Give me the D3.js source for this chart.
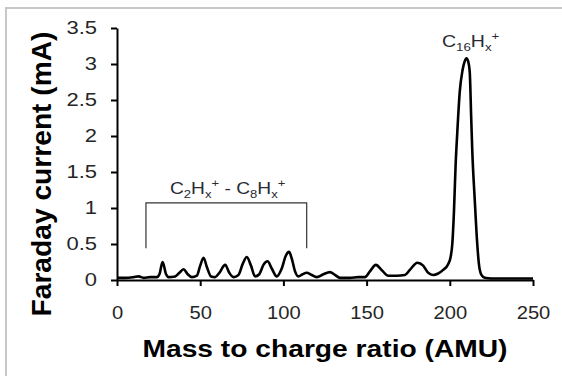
<!DOCTYPE html>
<html>
<head>
<meta charset="utf-8">
<script src="https://cdn.jsdelivr.net/npm/d3@7/dist/d3.min.js"></script>
<style>
body { margin: 0; background: #fff; }
svg { display: block; font-family: "Liberation Sans", Arial, sans-serif; }
</style>
</head>
<body>
<div id="chart"></div>
<script>
// spectrum: mass-to-charge (AMU) and Faraday current (mA)
var massCharge = [0, 5, 10, 13, 16, 20, 24, 25.5, 27.4, 29.5, 31, 35, 37.5, 40, 42.5, 45,
    48, 50, 52, 54, 56.5, 59, 61.5, 65, 67.5, 70, 73, 75.5, 78, 80.5, 83, 85.5, 88, 90.5,
    93, 96, 99, 101.5, 103.4, 105, 107, 109, 111.5, 114, 117, 120, 124, 128, 131, 134,
    140, 145, 149, 152, 155.6, 159, 163, 168, 173, 176, 180.5, 184, 187, 190, 193, 196,
    199, 200.5, 201.5, 202.5, 203.5, 204.5, 206, 207.7, 209, 210, 211, 212, 212.8, 213.5,
    215, 216.5, 217.5, 219, 221, 225, 235, 245, 250];
var current = [0.03, 0.03, 0.04, 0.05, 0.03, 0.04, 0.04, 0.08, 0.25, 0.08, 0.04, 0.05, 0.1, 0.15, 0.08, 0.04,
    0.06, 0.2, 0.31, 0.18, 0.05, 0.04, 0.1, 0.21, 0.1, 0.04, 0.07, 0.22, 0.32, 0.2, 0.05, 0.08, 0.21, 0.26,
    0.16, 0.05, 0.16, 0.34, 0.39, 0.3, 0.12, 0.05, 0.08, 0.1, 0.07, 0.04, 0.08, 0.11, 0.07, 0.03,
    0.03, 0.04, 0.04, 0.12, 0.21, 0.14, 0.06, 0.06, 0.07, 0.14, 0.24, 0.2, 0.1, 0.07, 0.09, 0.14,
    0.22, 0.32, 0.5, 0.95, 1.6, 2.05, 2.62, 2.92, 3.04, 3.08, 3.04, 2.88, 2.3, 1.8,
    1.11, 0.5, 0.22, 0.07, 0.03, 0.02, 0.02, 0.02, 0.02];

var xTicks = [0, 50, 100, 150, 200, 250];
var yTicks = [0, 0.5, 1, 1.5, 2, 2.5, 3, 3.5];

var svgWidth = 562, svgHeight = 376;
var plotLeft = 117, plotRight = 533, plotTop = 28, plotBottom = 280;

var svg = d3.select("#chart").append("svg")
    .attr("width", svgWidth)
    .attr("height", svgHeight);

// chart area frame (only left and top edges show in the crop)
svg.append("path")
    .attr("d", "M6,376V8H562")
    .attr("fill", "none")
    .attr("stroke", "#c8c8c8")
    .attr("stroke-width", 2);

var x = d3.scaleLinear().domain([0, 250]).range([plotLeft, plotRight]);
var y = d3.scaleLinear().domain([0, 3.5]).range([plotBottom, plotTop]);

// stretch text horizontally, the source picture is wider than the font
function stretch(sel, k) {
    sel.each(function() {
        var w = this.getComputedTextLength();
        this.setAttribute("lengthAdjust", "spacingAndGlyphs");
        this.setAttribute("textLength", w * k);
    });
}

var xAxis = svg.append("g")
    .attr("transform", "translate(0," + plotBottom + ")")
    .call(d3.axisBottom(x).tickValues(xTicks).tickSize(6).tickSizeOuter(0).tickPadding(20));

var yAxis = svg.append("g")
    .attr("transform", "translate(" + plotLeft + ",0)")
    .call(d3.axisLeft(y).tickValues(yTicks).tickSize(6).tickSizeOuter(0).tickPadding(14)
        .tickFormat(function(d) { return String(d); }));

[xAxis, yAxis].forEach(function(g) {
    g.select(".domain").attr("stroke", "#000").attr("stroke-width", 2);
    g.selectAll(".tick line").attr("stroke", "#000").attr("stroke-width", 2);
    g.selectAll(".tick text")
        .attr("font-family", "Liberation Sans, Arial, sans-serif")
        .attr("font-size", 18)
        .attr("fill", "#262626");
});
stretch(xAxis.selectAll(".tick text"), 1.12);
stretch(yAxis.selectAll(".tick text"), 1.22);

// spectrum line
var points = massCharge.map(function(m, i) { return [m, current[i]]; });
var spectrum = d3.line()
    .x(function(d) { return x(d[0]); })
    .y(function(d) { return y(d[1]); })
    .curve(d3.curveMonotoneX);

svg.append("path")
    .datum(points)
    .attr("d", spectrum)
    .attr("fill", "none")
    .attr("stroke", "#000")
    .attr("stroke-width", 2.6)
    .attr("stroke-linejoin", "round");

// axis titles
var xTitle = svg.append("text")
    .attr("x", 325)
    .attr("y", 357)
    .attr("text-anchor", "middle")
    .attr("font-size", 23)
    .attr("font-weight", "bold")
    .attr("fill", "#000")
    .text("Mass to charge ratio (AMU)");
xTitle.attr("lengthAdjust", "spacingAndGlyphs").attr("textLength", 365);

var yTitle = svg.append("text")
    .attr("transform", "translate(51,174) rotate(-90)")
    .attr("text-anchor", "middle")
    .attr("font-size", 28)
    .attr("font-weight", "bold")
    .attr("fill", "#000")
    .text("Faraday current (mA)");
yTitle.attr("lengthAdjust", "spacingAndGlyphs").attr("textLength", 285);

// annotations: formula label with sub/superscripts
function formula(parent, parts, size) {
    var t = parent.append("text")
        .attr("text-anchor", "middle")
        .attr("font-size", size)
        .attr("fill", "#2a2a33");
    var shift = 0;
    parts.forEach(function(p) {
        var target = p[1] === "sub" ? 4 : p[1] === "sup" ? -7 : 0;
        t.append("tspan")
            .attr("dy", target - shift)
            .attr("font-size", p[1] ? size * 0.68 : size)
            .text(p[0]);
        shift = target;
    });
    return t;
}

// bracket over the C2 - C8 group
var bracketMass = [17.4, 114];
var bracketLevel = [0.44, 1.07];
svg.append("path")
    .attr("d", "M" + x(bracketMass[0]) + "," + y(bracketLevel[0]) +
        "V" + y(bracketLevel[1]) + "H" + x(bracketMass[1]) + "V" + y(bracketLevel[0]))
    .attr("fill", "none")
    .attr("stroke", "#333")
    .attr("stroke-width", 1.2);

var lowLabel = svg.append("g")
    .attr("transform", "translate(" + x(66.5) + "," + y(1.19) + ") scale(1.2,1)");
formula(lowLabel, [["C"], ["2", "sub"], ["H"], ["x", "sub"], ["+", "sup"], [" - C"], ["8", "sub"],
    ["H"], ["x", "sub"], ["+", "sup"]], 16);

var highLabel = svg.append("g")
    .attr("transform", "translate(" + x(212.5) + "," + y(3.24) + ") scale(1.15,1)");
formula(highLabel, [["C"], ["16", "sub"], ["H"], ["x", "sub"], ["+", "sup"]], 17);
</script>
</body>
</html>
